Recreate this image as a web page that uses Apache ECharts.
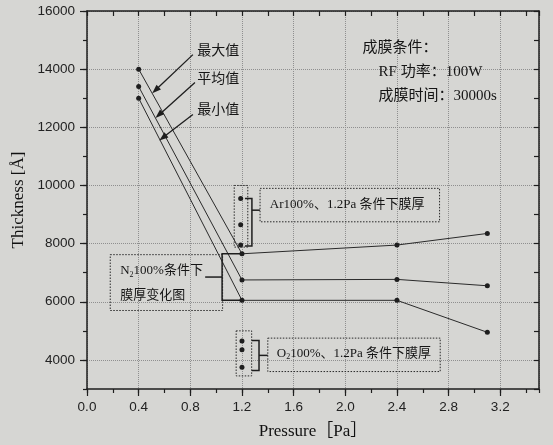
<!DOCTYPE html>
<html><head><meta charset="utf-8">
<script src="https://cdn.jsdelivr.net/npm/echarts@6/dist/echarts.min.js"></script>
<style>html,body{margin:0;padding:0;background:#d6d6d3}#c{width:553px;height:445px}</style>
</head><body><div id="c"></div><script>
// ---- data ----
const pressure = [0.4, 1.2, 2.4, 3.1];
const thickMax = [14000, 7650, 7950, 8350];
const thickAvg = [13400, 6750, 6770, 6550];
const thickMin = [13000, 6050, 6050, 4950];
const arPressure = 1.19;
const arThick = [9550, 8650, 7950];
const o2Pressure = 1.2;
const o2Thick = [4650, 4350, 3750];
const yTickValues = [4000, 6000, 8000, 10000, 12000, 14000, 16000];
const xTickLabels = ['0.0','0.4','0.8','1.2','1.6','2.0','2.4','2.8','3.2'];

const INK = '#1e1e1e';
const SERIF = '"Liberation Serif","Noto Sans CJK SC",serif';
const SANS = '"Liberation Sans",Arial,sans-serif';

function pairs(xs, ys){ return xs.map((x,i)=>[x, ys[i]]); }
function lineSeries(name, ys){
  return {name, type:'line', xAxisIndex:0, yAxisIndex:0, data:pairs(pressure, ys),
    symbol:'circle', symbolSize:5, itemStyle:{color:INK, opacity:1},
    lineStyle:{color:'#2a2a2a', width:1}, animation:false, z:5};
}

const option = {
  backgroundColor:'#d6d6d3',
  animation:false,
  grid:{left:87, right:14, top:11, bottom:56},
  xAxis:[
    {type:'value', position:'bottom', min:0, max:3.5, interval:0.4,
     axisLine:{show:true, onZero:false, lineStyle:{color:INK, width:1.5}},
     axisTick:{show:true, inside:false, length:7, lineStyle:{color:INK, width:1.2}},
     axisLabel:{showMaxLabel:false, color:'#222', fontSize:13.5, fontFamily:SANS, margin:11,
       formatter:(v)=>{ const i = Math.round(v/0.4); return Math.abs(v - i*0.4) < 1e-6 ? (xTickLabels[i]||'') : ''; }},
     splitLine:{show:true, lineStyle:{type:'dotted', color:'#8f8f8f', width:1}},
     name:'Pressure［Pa］', nameLocation:'middle', nameGap:34,
     nameTextStyle:{fontFamily:SERIF, fontSize:17, color:'#111'}},
    {type:'value', position:'bottom', min:0, max:3.5, interval:0.2,
     axisLine:{show:false, onZero:false}, axisTick:{show:true, inside:false, length:4, lineStyle:{color:INK, width:1.2}},
     axisLabel:{show:false}, splitLine:{show:false}},
    {type:'value', position:'top', min:0, max:3.5, interval:0.2,
     axisLine:{show:true, onZero:false, lineStyle:{color:INK, width:1.5}},
     axisTick:{show:true, inside:true, length:5, lineStyle:{color:INK, width:1.2}},
     axisLabel:{show:false}, splitLine:{show:false}}
  ],
  yAxis:[
    {type:'value', position:'left', min:3000, max:16000, interval:1000,
     axisLine:{show:true, onZero:false, lineStyle:{color:INK, width:1.5}},
     axisTick:{show:true, inside:false, length:7, customValues:yTickValues, lineStyle:{color:INK, width:1.2}},
     axisLabel:{customValues:yTickValues, color:'#222', fontSize:13.5, fontFamily:SANS, margin:12,
       formatter:(v)=>String(Math.round(v))},
     splitLine:{show:true, lineStyle:{type:'dotted', color:'#8f8f8f', width:1}},
     name:'Thickness [Å]', nameLocation:'middle', nameGap:51, nameRotate:90,
     nameTextStyle:{fontFamily:SERIF, fontSize:17, color:'#111'}},
    {type:'value', position:'left', min:3000, max:16000, interval:1000,
     axisLine:{show:false, onZero:false}, axisTick:{show:true, inside:false, length:4, lineStyle:{color:INK, width:1.2}},
     axisLabel:{show:false}, splitLine:{show:false}},
    {type:'value', position:'right', min:3000, max:16000, interval:1000,
     axisLine:{show:true, onZero:false, lineStyle:{color:INK, width:1.5}},
     axisTick:{show:true, inside:true, length:5, lineStyle:{color:INK, width:1.2}},
     axisLabel:{show:false}, splitLine:{show:false}}
  ],
  series:[
    lineSeries('最大值', thickMax),
    lineSeries('平均值', thickAvg),
    lineSeries('最小值', thickMin),
    {name:'Ar', type:'scatter', xAxisIndex:0, yAxisIndex:0, data:arThick.map(v=>[arPressure, v]),
     symbol:'circle', symbolSize:5, itemStyle:{color:INK, opacity:1}, z:6},
    {name:'O2', type:'scatter', xAxisIndex:0, yAxisIndex:0, data:o2Thick.map(v=>[o2Pressure, v]),
     symbol:'circle', symbolSize:5, itemStyle:{color:INK, opacity:1}, z:6}
  ]
};

const chart = echarts.init(document.getElementById('c'));
chart.setOption(option);

// ---- annotations (positions in data space, converted through the chart's scales) ----
const labelAnn = [
  {t:'最大值', at:[0.853,14600], s:14},
  {t:'平均值', at:[0.853,13640], s:14},
  {t:'最小值', at:[0.853,12577], s:14},
  {t:'成膜条件：', at:[2.134,14741], s:15},
  {t:'RF 功率：100W', at:[2.258,13883], s:15},
  {t:'成膜时间：30000s', at:[2.258,13060], s:15},
  {t:'Ar100%、1.2Pa 条件下膜厚', at:[1.416,9354], s:13},
  {t:'O{s|2}100%、1.2Pa 条件下膜厚', at:[1.47,4208], s:13},
  {t:'N{s|2}100%条件下', at:[0.257,7060], s:13},
  {t:'膜厚变化图', at:[0.257,6200], s:13}
];
const arrowAnn = [
  [[0.82,14500],[0.505,13170]],
  [[0.836,13540],[0.53,12320]],
  [[0.82,12440],[0.56,11550]]
];
const rectAnn = [
  [[1.14,10000],[1.245,7880]],
  [[1.34,9900],[2.73,8750]],
  [[1.155,5000],[1.275,3450]],
  [[1.40,4750],[2.735,3600]],
  [[0.18,7620],[1.05,5700]]
];
const bracketAnn = [
  [[1.223,9550],[1.277,9550],[1.277,7920],[1.223,7920]],
  [[1.277,9150],[1.339,9150]],
  [[1.276,4665],[1.332,4665],[1.332,3637],[1.276,3637]],
  [[1.332,4156],[1.40,4156]],
  [[1.2,7650],[1.046,7650],[1.046,6050],[1.2,6050]],
  [[1.046,6850],[0.915,6850]]
];

function P(p){ return chart.convertToPixel({seriesIndex:0}, p); }
const g = [];
labelAnn.forEach(a=>{
  const p = P(a.at);
  g.push({type:'text', x:p[0], y:p[1], z:20, style:{text:a.t, fontSize:a.s, fontFamily:SERIF, fill:'#151515',
    align:'left', verticalAlign:'middle',
    rich:{s:{fontSize:Math.round(a.s*0.65), fontFamily:SERIF, fill:'#151515', verticalAlign:'bottom', padding:[7,0,0,0]}}}});
});
arrowAnn.forEach(a=>{
  const s = P(a[0]), e = P(a[1]);
  const dx = e[0]-s[0], dy = e[1]-s[1], L = Math.hypot(dx,dy);
  const ux = dx/L, uy = dy/L, nx = -uy, ny = ux, hl = 9, hw = 3.2;
  g.push({type:'line', z:20, shape:{x1:s[0], y1:s[1], x2:e[0]-ux*hl*0.6, y2:e[1]-uy*hl*0.6}, style:{stroke:INK, lineWidth:1.3}});
  g.push({type:'polygon', z:20, shape:{points:[[e[0],e[1]],[e[0]-ux*hl+nx*hw, e[1]-uy*hl+ny*hw],[e[0]-ux*hl-nx*hw, e[1]-uy*hl-ny*hw]]}, style:{fill:INK}});
});
rectAnn.forEach(r=>{
  const a = P(r[0]), b = P(r[1]);
  g.push({type:'rect', z:15, shape:{x:Math.min(a[0],b[0]), y:Math.min(a[1],b[1]), width:Math.abs(b[0]-a[0]), height:Math.abs(b[1]-a[1])},
    style:{fill:'none', stroke:'#2a2a2a', lineWidth:1, lineDash:[1.5,1.5]}});
});
bracketAnn.forEach(b=>{
  g.push({type:'polyline', z:16, shape:{points:b.map(P)}, style:{fill:'none', stroke:INK, lineWidth:1.5}});
});
chart.setOption({graphic:g});
</script></body></html>
